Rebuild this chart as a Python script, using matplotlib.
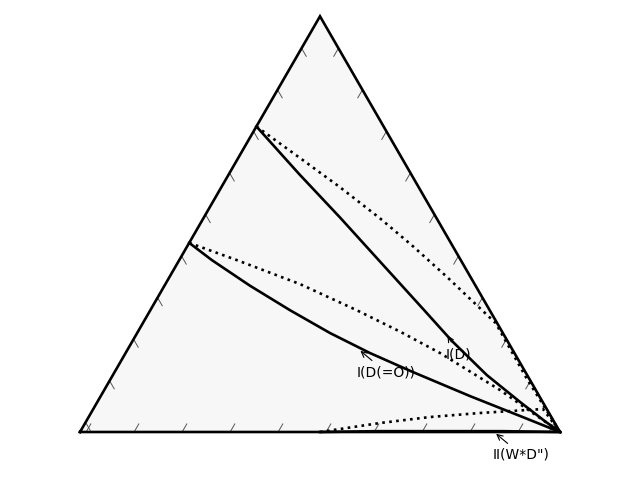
# ternary diagram with two families of curves meeting at the right corner
import numpy as np
import matplotlib.pyplot as plt

H = np.sqrt(3) / 2

# each curve is a list of compositions: t = top fraction, r = right fraction
upper_solid_t = [0.735, 0.62, 0.515, 0.41, 0.295, 0.22, 0.137, 0.072, 0.026, 0.0]
upper_solid_r = [0.0, 0.147, 0.285, 0.42, 0.568, 0.664, 0.779, 0.881, 0.9555, 1.0]

lower_solid_t = [0.455, 0.4135, 0.352, 0.293, 0.238, 0.19, 0.144, 0.0865, 0.0385, 0.0]
lower_solid_r = [0.0, 0.068, 0.178, 0.291, 0.402, 0.509, 0.622, 0.769, 0.8975, 1.0]

upper_dot_t = [0.735, 0.659, 0.589, 0.514, 0.447, 0.373, 0.298, 0.262, 0.13, 0.0]
upper_dot_r = [0.0, 0.129, 0.247, 0.368, 0.47, 0.578, 0.684, 0.735, 0.865, 1.0]

middle_dot_t = [0.455, 0.4135, 0.356, 0.293, 0.2415, 0.19, 0.101, 0.0505, 0.0]
middle_dot_r = [0.0, 0.12, 0.28, 0.43, 0.546, 0.655, 0.8245, 0.912, 1.0]

lower_dot_t = [0.0, 0.0216, 0.036, 0.0457, 0.0553, 0.0]
lower_dot_r = [0.5, 0.614, 0.711, 0.8105, 0.937, 1.0]

bottom_solid_t = [0.0, 0.002, 0.002, 0.002, 0.0]
bottom_solid_r = [0.5, 0.62, 0.75, 0.88, 1.0]

tick_values = np.arange(10) / 10


# convert ternary fractions into x, y in the triangle
def tern(t, r):
    t = np.asarray(t, dtype=float)
    r = np.asarray(r, dtype=float)
    return r + 0.5 * t, H * t


fig = plt.figure(figsize=(6.4, 4.8), dpi=100)
ax = fig.add_axes([0, 0, 1, 1])
ax.set_xlim(-80 / 480, 560 / 480)
ax.set_ylim(-48 / 480, 432 / 480)
ax.set_aspect("equal")
ax.axis("off")

corners = np.array([[0, 0], [1, 0], [0.5, H]])
ax.fill(corners[:, 0], corners[:, 1], color="#f7f7f7", zorder=0)

# small inward ticks on every edge
edges = [
    (corners[0], corners[1], np.array([0.5, H]), np.array([0, 1])),
    (corners[1], corners[2], np.array([0.5, H]), np.array([-H, -0.5])),
    (corners[0], corners[2], np.array([0.5, -H]), np.array([H, -0.5])),
]
for start, end, direction, inward in edges:
    for v in tick_values:
        p = start + (end - start) * (v + 0.018) + inward * 0.009
        a = p - direction * 0.009
        b = p + direction * 0.009
        ax.plot([a[0], b[0]], [a[1], b[1]], color="#555555", lw=0.7, zorder=1)

# solid curves
for t, r in [(upper_solid_t, upper_solid_r), (lower_solid_t, lower_solid_r),
             (bottom_solid_t, bottom_solid_r)]:
    x, y = tern(t, r)
    ax.plot(x, y, color="black", lw=1.9, zorder=3)

# dotted curves
for t, r in [(upper_dot_t, upper_dot_r), (middle_dot_t, middle_dot_r),
             (lower_dot_t, lower_dot_r)]:
    x, y = tern(t, r)
    ax.plot(x, y, color="black", lw=1.9, ls=":", zorder=3)

# triangle outline
ax.plot([0, 1, 0.5, 0], [0, 0, H, 0], color="black", lw=1.9, zorder=4,
        solid_joinstyle="miter")

arrow = dict(arrowstyle="->", color="black", lw=0.8)
ax.annotate("I(D)", xy=tern(0.238, 0.6435), xytext=(0, -21),
            textcoords="offset pixels", ha="left", va="center",
            fontsize=10, arrowprops=arrow)
ax.annotate("I(D(=O))", xy=tern(0.1995, 0.48), xytext=(-2, -23),
            textcoords="offset pixels", ha="left", va="center",
            fontsize=10, arrowprops=arrow)
ax.annotate("II(W*D\")", xy=tern(0.0, 0.8625), xytext=(-1, -23),
            textcoords="offset pixels", ha="left", va="center",
            fontsize=10, arrowprops=arrow)

plt.savefig("out.png", dpi=100)
plt.close()
